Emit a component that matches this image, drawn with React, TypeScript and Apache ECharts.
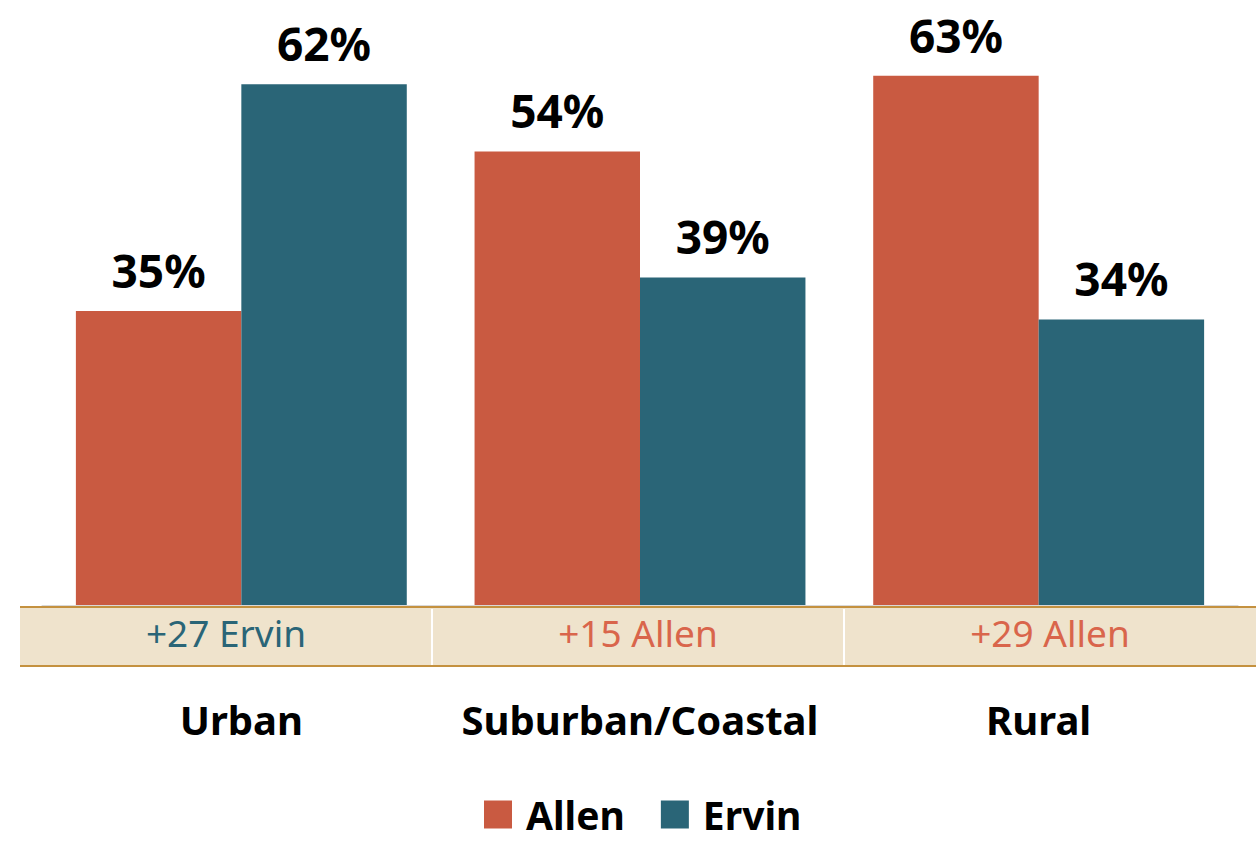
import React, { useEffect, useRef } from "react";
import * as echarts from "echarts";

const categories = ["Urban", "Suburban/Coastal", "Rural"];
const allenValues = [35, 54, 63];
const ervinValues = [62, 39, 34];
const marginLabels = ["+27 Ervin", "+15 Allen", "+29 Allen"];
const marginLeaders = ["Ervin", "Allen", "Allen"];

const ALLEN = "#C95A41";
const ERVIN = "#2A6577";
const ALLEN_TEXT = "#D9654B";
const FONT = "'Noto Sans', 'Open Sans', sans-serif";

export default function App() {
  const ref = useRef<HTMLDivElement>(null);
  useEffect(() => {
    const chart = echarts.init(ref.current!, null, { renderer: "svg" });
    const bandTop = 607;
    const bandBottom = 666;
    const bandLeft = 20;
    const bandRight = 1256;
    const cellW = (bandRight - bandLeft) / 3;
    const graphics: any[] = [
      {
        type: "rect",
        shape: { x: bandLeft, y: bandTop, width: bandRight - bandLeft, height: bandBottom - bandTop },
        style: { fill: "#EFE3CC" },
        silent: true,
      },
      {
        type: "line",
        shape: { x1: bandLeft, y1: bandTop, x2: bandRight, y2: bandTop },
        style: { stroke: "#C4913F", lineWidth: 2 },
      },
      {
        type: "line",
        shape: { x1: bandLeft, y1: bandBottom, x2: bandRight, y2: bandBottom },
        style: { stroke: "#C4913F", lineWidth: 2 },
      },
    ];
    for (let i = 1; i < 3; i++) {
      const x = bandLeft + cellW * i;
      graphics.push({
        type: "line",
        shape: { x1: x, y1: bandTop + 2, x2: x, y2: bandBottom - 1 },
        style: { stroke: "#FFFFFF", lineWidth: 2 },
      });
    }
    marginLabels.forEach((t, i) => {
      graphics.push({
        type: "text",
        x: bandLeft + cellW * i + cellW / 2,
        y: 632,
        style: {
          text: t,
          fill: marginLeaders[i] === "Allen" ? ALLEN_TEXT : ERVIN,
          font: `37px ${FONT}`,
          textAlign: "center",
          textVerticalAlign: "middle",
        },
      });
    });

    const labelStyle = {
      show: true,
      position: "top",
      distance: 18,
      formatter: "{c}%",
      color: "#000",
      fontFamily: FONT,
      fontWeight: "bold",
      fontSize: 46,
    };

    chart.setOption({
      animation: false,
      grid: { left: 42, right: 20, top: 17, bottom: 237 },
      legend: {
        left: 484,
        top: 795,
        itemWidth: 28,
        itemHeight: 28,
        itemGap: 36,
        icon: "rect",
        padding: 0,
        textStyle: {
          fontFamily: FONT,
          fontWeight: "bold",
          fontSize: 39,
          color: "#000",
          padding: [0, 0, 0, 9],
        },
        data: ["Allen", "Ervin"],
      },
      xAxis: {
        type: "category",
        data: categories,
        axisLine: { show: true, lineStyle: { color: "#D9D9D9", width: 1 } },
        axisTick: { show: false },
        axisLabel: {
          interval: 0,
          margin: 94,
          fontFamily: FONT,
          fontWeight: "bold",
          fontSize: 40,
          color: "#000",
        },
      },
      yAxis: {
        type: "value",
        min: 0,
        max: 70,
        show: false,
        splitLine: { show: false },
      },
      series: [
        {
          name: "Allen",
          type: "bar",
          data: allenValues,
          itemStyle: { color: ALLEN },
          barGap: "0%",
          barCategoryGap: "17%",
          label: labelStyle,
        },
        {
          name: "Ervin",
          type: "bar",
          data: ervinValues,
          itemStyle: { color: ERVIN },
          label: labelStyle,
        },
      ],
      graphic: graphics,
    });
    return () => chart.dispose();
  }, []);
  return (
    <div
      ref={ref}
      style={{ position: "fixed", left: 0, top: 0, width: 1258, height: 842, background: "#fff" }}
    />
  );
}
